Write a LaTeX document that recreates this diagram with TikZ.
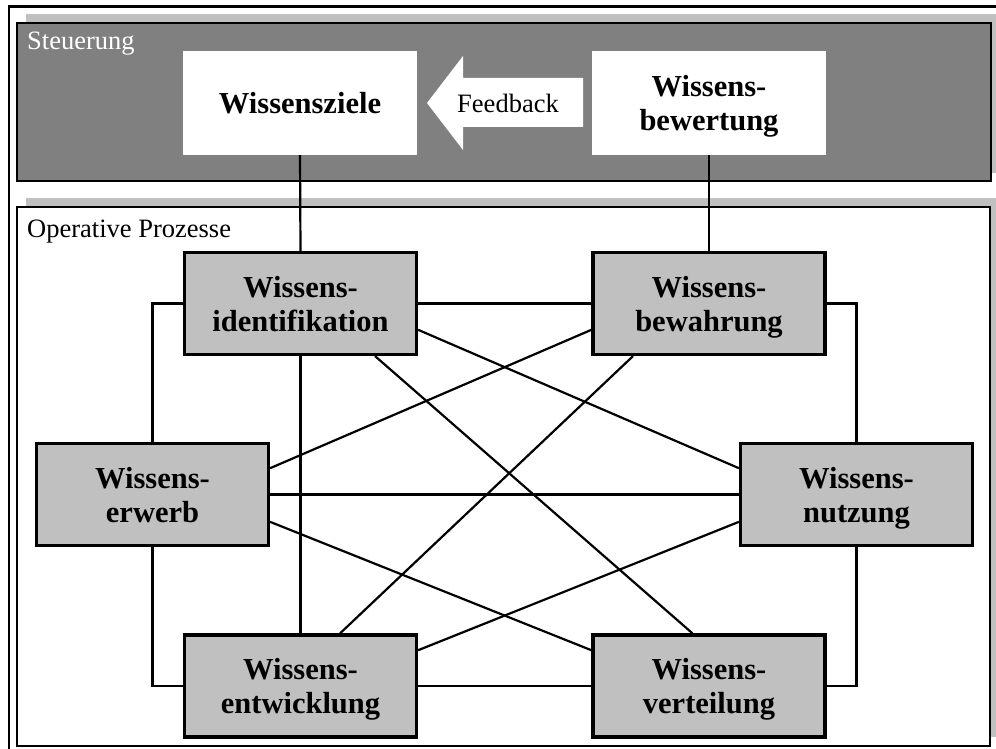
\documentclass[tikz,border=0pt]{standalone}
\usepackage{fontspec}
\setmainfont{Liberation Serif}
\usetikzlibrary{calc}
\definecolor{darkpanel}{HTML}{808080}
\definecolor{lightpanel}{HTML}{C0C0C0}
\begin{document}
\begin{tikzpicture}[x=1pt,y=-1pt,
  paneltitle/.style={anchor=base west, inner sep=0pt, font=\fontsize{26.5}{30}\selectfont},
  proc/.style={draw=black, line width=3.2pt, fill=lightpanel,
    minimum width=232pt, minimum height=102pt, inner sep=0pt,
    align=center, text depth=0pt,
    font=\fontsize{30.5}{34}\selectfont\bfseries},
  ctrl/.style={fill=white, minimum width=234pt, minimum height=104pt,
    inner sep=0pt, align=center, text depth=0pt,
    font=\fontsize{30.5}{34}\selectfont\bfseries},
  link/.style={line width=2.2pt}]
\useasboundingbox (0,0) rectangle (996,749);
\begin{scope}
\clip (0,0) rectangle (996,749);
% outer frame
\draw[line width=2.5pt] (9,6.5) rectangle (1010,760);
% control layer
\fill[lightpanel] (26,14) rectangle (1000,173);
\draw[fill=darkpanel, line width=2.2pt] (17,23) rectangle (991,181);
% operative layer
\fill[lightpanel] (26,198) rectangle (1000,737);
\draw[fill=white, line width=2.2pt] (17,207) rectangle (990,746);
\end{scope}

\node[paneltitle, text=white] (steuer) at (27,50) {Steuerung};
\node[paneltitle] (operativ) at (27,237) {Operative Prozesse};

% control nodes
\node[ctrl] (ziele) at (300,103) {Wissensziele};
\node[ctrl] (bewert) at (709,103) {Wissens-\\bewertung};

% feedback arrow
\fill[white] (427,103) -- (463,56) -- (463,78) -- (583,78) -- (583,127)
  -- (463,127) -- (463,150) -- cycle;
\node[inner sep=0pt, font=\fontsize{26.5}{30}\selectfont] (feedback) at (508,103) {Feedback};

% process nodes
\node[proc] (iden) at (300.5,303.5) {Wissens-\\identifikation};
\node[proc] (bewa) at (709,303.5) {Wissens-\\bewahrung};
\node[proc] (erwe) at (152.5,494.5) {Wissens-\\erwerb};
\node[proc] (nutz) at (856.5,494.5) {Wissens-\\nutzung};
\node[proc] (entw) at (300.5,686) {Wissens-\\entwicklung};
\node[proc] (vert) at (709,686) {Wissens-\\verteilung};

% links between the layers
\draw[link] (ziele.south) -- (iden.north);
\draw[link] (bewert.south) -- (bewa.north);

% outer ring
\draw[link] (iden.west) -| (erwe.north);
\draw[link] (erwe.south) |- (entw.west);
\draw[link] (bewa.east) -| (nutz.north);
\draw[link] (nutz.south) |- (vert.east);
\draw[link] (iden.east) -- (bewa.west);
\draw[link] (entw.east) -- (vert.west);
\draw[link] (erwe.east) -- (nutz.west);
\draw[link] (iden.south) -- (entw.north);

% cross links
\draw[link] ($(iden.north east)!0.75!(iden.south east)$) -- ($(nutz.north west)!0.25!(nutz.south west)$);
\draw[link] ($(bewa.north west)!0.75!(bewa.south west)$) -- ($(erwe.north east)!0.25!(erwe.south east)$);
\draw[link] ($(iden.south west)!0.817!(iden.south east)$) -- ($(vert.north west)!0.43!(vert.north east)$);
\draw[link] ($(bewa.south west)!0.177!(bewa.south east)$) -- ($(entw.north west)!0.668!(entw.north east)$);
\draw[link] ($(erwe.north east)!0.76!(erwe.south east)$) -- ($(vert.north west)!0.16!(vert.south west)$);
\draw[link] ($(nutz.north west)!0.76!(nutz.south west)$) -- ($(entw.north east)!0.16!(entw.south east)$);
\end{tikzpicture}
\end{document}
